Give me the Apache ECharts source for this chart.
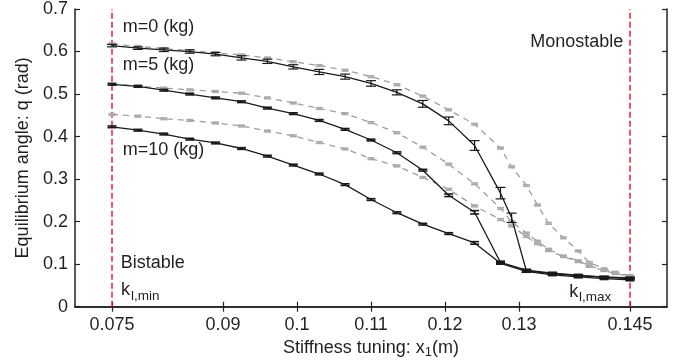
<!DOCTYPE html>
<html>
<head>
<meta charset="utf-8">
<script src="https://cdn.jsdelivr.net/npm/echarts@6/dist/echarts.min.js"></script>
<style>html,body{margin:0;padding:0;background:#fff}#c{width:684px;height:364px}</style>
</head>
<body>
<div id="c"></div>
<script>
// ---- data ----
const xTicks = [0.075, 0.09, 0.1, 0.11, 0.12, 0.13, 0.145];
const yTicks = [0, 0.1, 0.2, 0.3, 0.4, 0.5, 0.6, 0.7];
const kMin = 0.075, kMax = 0.145;

// experimental (black, solid, with error bars)
const xExp0  = [0.075,0.0785,0.082,0.0855,0.089,0.0925,0.096,0.0995,0.103,0.1065,0.11,0.1135,0.117,0.1205,0.124,0.1275,0.129,0.131,0.1345,0.138,0.1415,0.145];
const yExp0  = [0.614,0.608,0.604,0.600,0.594,0.585,0.577,0.564,0.552,0.541,0.525,0.504,0.477,0.437,0.379,0.267,0.209,0.084,0.078,0.073,0.070,0.068];
const eExp0  = [0.003,0.003,0.004,0.004,0.004,0.005,0.005,0.005,0.006,0.006,0.0065,0.006,0.008,0.009,0.0115,0.0135,0.011,0.003,0.002,0.002,0.002,0.002];

const xExp5  = [0.075,0.0785,0.082,0.0855,0.089,0.0925,0.096,0.0995,0.103,0.1065,0.11,0.1135,0.117,0.1205,0.124,0.1275,0.131,0.1345,0.138,0.1415,0.145];
const yExp5  = [0.523,0.518,0.509,0.500,0.491,0.482,0.467,0.454,0.438,0.417,0.392,0.362,0.321,0.262,0.222,0.104,0.086,0.079,0.074,0.069,0.066];
const eExp5  = [0.002,0.002,0.002,0.002,0.002,0.002,0.002,0.002,0.002,0.002,0.002,0.002,0.002,0.003,0.004,0.003,0.002,0.002,0.002,0.002,0.002];

const xExp10 = [0.075,0.0785,0.082,0.0855,0.089,0.0925,0.096,0.0995,0.103,0.1065,0.11,0.1135,0.117,0.1205,0.124,0.1275,0.131,0.1345,0.138,0.1415,0.145];
const yExp10 = [0.423,0.415,0.406,0.394,0.385,0.372,0.354,0.333,0.312,0.287,0.252,0.221,0.194,0.172,0.150,0.102,0.083,0.075,0.070,0.066,0.063];
const eExp10 = [0.002,0.002,0.002,0.002,0.002,0.002,0.002,0.002,0.002,0.002,0.002,0.002,0.002,0.002,0.003,0.002,0.002,0.002,0.002,0.002,0.002];

// model (gray, dashed)
const xMod   = [0.075,0.0785,0.082,0.0855,0.089,0.0925,0.096,0.0995,0.103,0.1065,0.11,0.1135,0.117,0.1205,0.124,0.1275,0.129,0.131,0.1325,0.134,0.136,0.138,0.1395,0.1415,0.143,0.145];
const yMod0  = [0.618,0.612,0.607,0.602,0.597,0.592,0.585,0.576,0.567,0.556,0.541,0.522,0.495,0.463,0.429,0.373,0.329,0.285,0.239,0.196,0.162,0.131,0.104,0.089,0.081,0.073];
const yMod5  = [0.523,0.519,0.514,0.510,0.506,0.502,0.491,0.479,0.466,0.454,0.433,0.409,0.375,0.335,0.289,0.231,0.200,0.173,0.154,0.135,0.119,0.108,0.096,0.086,0.079,0.073];
const yMod10 = [0.452,0.448,0.442,0.438,0.432,0.425,0.413,0.402,0.386,0.371,0.348,0.331,0.304,0.276,0.237,0.205,0.190,0.165,0.148,0.132,0.118,0.106,0.095,0.085,0.078,0.071];
const eMod   = 0.002;

// ---- chart ----
const FONT = '"Liberation Sans", Arial, Helvetica, sans-serif';
const TXT = '#231f20';
const BLACK = '#1a1a1a';
const GRAY = '#9e9e9e';
const GRAYMK = '#aaaaaa';
const RED = '#e8212b';

const pairs = (xs, ys) => xs.map((x, i) => [x, ys[i]]);
const triples = (xs, ys, es) => xs.map((x, i) => [x, ys[i], Array.isArray(es) ? es[i] : es]);

function errSeries(data, color, capW, lw, z) {
  return {
    type: 'custom', data, z, silent: true,
    encode: { x: 0, y: 1 },
    renderItem: function (params, api) {
      const x = api.value(0), y = api.value(1), e = api.value(2);
      const t = api.coord([x, y + e]);
      const b = api.coord([x, y - e]);
      const st = { stroke: color, lineWidth: lw };
      return {
        type: 'group',
        children: [
          { type: 'line', shape: { x1: t[0], y1: t[1], x2: b[0], y2: b[1] }, style: st },
          { type: 'line', shape: { x1: t[0] - capW, y1: t[1], x2: t[0] + capW, y2: t[1] }, style: st },
          { type: 'line', shape: { x1: b[0] - capW, y1: b[1], x2: b[0] + capW, y2: b[1] }, style: st }
        ]
      };
    }
  };
}

function lineSeries(data, color, dashed, z) {
  return {
    type: 'line', data, z, showSymbol: false, silent: true, animation: false,
    lineStyle: { color, width: 1.3, type: dashed ? [6, 5] : 'solid' }
  };
}

function vline(x) {
  return {
    type: 'line', data: [[x, 0], [x, 0.7]], showSymbol: false, silent: true, z: 1,
    lineStyle: { color: RED, width: 1.5, type: [6, 3] }
  };
}

const chart = echarts.init(document.getElementById('c'), null, { renderer: 'canvas' });
const axisLine = { show: true, lineStyle: { color: '#222', width: 1.5 } };

const option = {
  animation: false,
  backgroundColor: '#fff',
  grid: { left: 75, right: 17, top: 3.3, bottom: 57.3 },
  xAxis: [{
    type: 'value', min: 0.07, max: 0.15, position: 'bottom',
    axisLine,
    axisTick: { show: true, inside: true, length: 5, customValues: xTicks, lineStyle: { color: '#222', width: 1.2 } },
    axisLabel: { customValues: xTicks, formatter: v => String(v), fontSize: 18, fontFamily: FONT, color: TXT, margin: 9 },
    splitLine: { show: false },
    name: '{a|Stiffness tuning: x}{b|1}{a|(m)}',
    nameLocation: 'middle', nameGap: 27,
    nameTextStyle: {
      rich: {
        a: { fontSize: 18, fontFamily: FONT, color: TXT, lineHeight: 22 },
        b: { fontSize: 13, fontFamily: FONT, color: TXT, lineHeight: 13, verticalAlign: 'bottom' }
      }
    }
  }, {
    type: 'value', min: 0.07, max: 0.15, position: 'top',
    axisLine,
    axisTick: { show: true, inside: true, length: 5, customValues: xTicks, lineStyle: { color: '#222', width: 1.2 } },
    axisLabel: { show: false, customValues: xTicks },
    splitLine: { show: false }
  }],
  yAxis: [{
    type: 'value', min: 0, max: 0.7, interval: 0.1, position: 'left',
    axisLine,
    axisTick: { show: true, inside: true, length: 5, lineStyle: { color: '#222', width: 1.2 } },
    axisLabel: { formatter: v => String(+v.toFixed(1)), fontSize: 18, fontFamily: FONT, color: TXT, margin: 7 },
    splitLine: { show: false },
    name: 'Equilibrium angle: q (rad)',
    nameLocation: 'middle', nameGap: 40,
    nameTextStyle: { fontSize: 18, fontFamily: FONT, color: TXT }
  }, {
    type: 'value', min: 0, max: 0.7, interval: 0.1, position: 'right',
    axisLine,
    axisTick: { show: true, inside: true, length: 5, lineStyle: { color: '#222', width: 1.2 } },
    axisLabel: { show: false },
    splitLine: { show: false }
  }],
  series: [
    vline(kMin), vline(kMax),
    lineSeries(pairs(xMod, yMod0), GRAY, true, 2),
    lineSeries(pairs(xMod, yMod5), GRAY, true, 2),
    lineSeries(pairs(xMod, yMod10), GRAY, true, 2),
    errSeries(triples(xMod, yMod0, eMod), GRAYMK, 3.5, 1.6, 3),
    errSeries(triples(xMod, yMod5, eMod), GRAYMK, 3.5, 1.6, 3),
    errSeries(triples(xMod, yMod10, eMod), GRAYMK, 3.5, 1.6, 3),
    lineSeries(pairs(xExp0, yExp0), BLACK, false, 4),
    lineSeries(pairs(xExp5, yExp5), BLACK, false, 4),
    lineSeries(pairs(xExp10, yExp10), BLACK, false, 4),
    errSeries(triples(xExp0, yExp0, eExp0), BLACK, 5, 1.2, 5),
    errSeries(triples(xExp5, yExp5, eExp5), BLACK, 4.5, 1.6, 5),
    errSeries(triples(xExp10, yExp10, eExp10), BLACK, 4.5, 1.6, 5)
  ],
  graphic: [
    { type: 'text', x: 122.7, y: 27, style: { text: 'm=0 (kg)', font: '18px ' + FONT, fill: TXT, align: 'left', verticalAlign: 'middle' } },
    { type: 'text', x: 122.7, y: 65.4, style: { text: 'm=5 (kg)', font: '18px ' + FONT, fill: TXT, align: 'left', verticalAlign: 'middle' } },
    { type: 'text', x: 122.7, y: 150.4, style: { text: 'm=10 (kg)', font: '18px ' + FONT, fill: TXT, align: 'left', verticalAlign: 'middle' } },
    { type: 'text', x: 623.3, y: 42, style: { text: 'Monostable', font: '18px ' + FONT, fill: TXT, align: 'right', verticalAlign: 'middle' } },
    { type: 'text', x: 120.7, y: 262.7, style: { text: 'Bistable', font: '18px ' + FONT, fill: TXT, align: 'left', verticalAlign: 'middle' } },
    { type: 'text', x: 121, y: 290.4, style: { text: 'k', font: '18px ' + FONT, fill: TXT, align: 'left', verticalAlign: 'middle' } },
    { type: 'text', x: 131, y: 296, style: { text: 'l,min', font: '13.5px ' + FONT, fill: TXT, align: 'left', verticalAlign: 'middle' } },
    { type: 'text', x: 569.3, y: 292, style: { text: 'k', font: '18px ' + FONT, fill: TXT, align: 'left', verticalAlign: 'middle' } },
    { type: 'text', x: 579, y: 297.5, style: { text: 'l,max', font: '13.5px ' + FONT, fill: TXT, align: 'left', verticalAlign: 'middle' } }
  ]
};
chart.setOption(option);
</script>
</body>
</html>
